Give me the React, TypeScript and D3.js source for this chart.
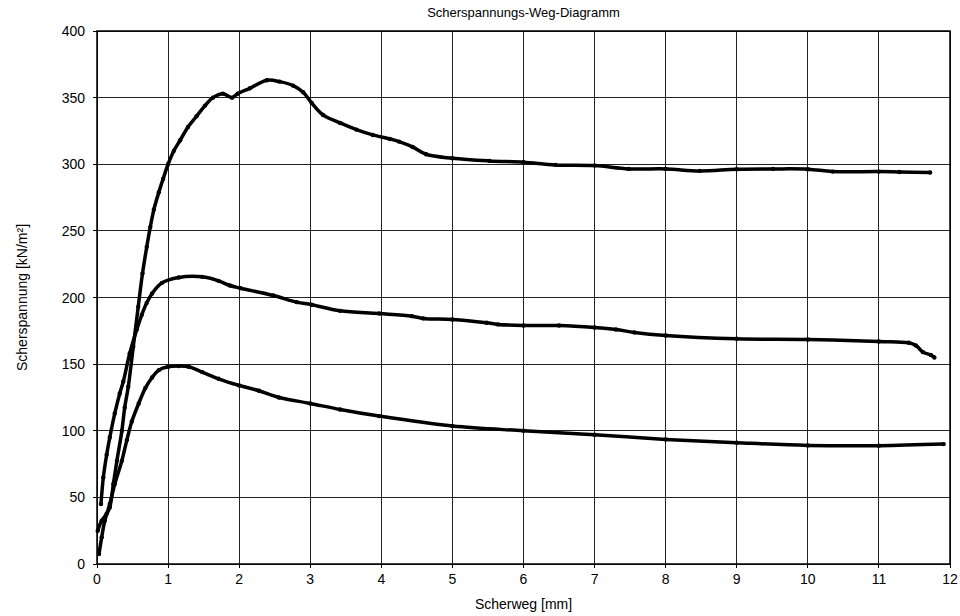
import React from "react";
import * as d3 from "d3";

const xTicks = [0, 1, 2, 3, 4, 5, 6, 7, 8, 9, 10, 11, 12];
const yTicks = [0, 50, 100, 150, 200, 250, 300, 350, 400];

// Scherweg [mm], Scherspannung [kN/m²]
const seriesTop: [number, number][] = [
  [0.01, 25], [0.066, 32.5], [0.136, 37.7], [0.18, 42.5], [0.23, 60], [0.28, 77.5],
  [0.35, 100], [0.39, 117.5], [0.44, 133], [0.51, 163], [0.58, 193], [0.64, 218],
  [0.7, 238], [0.75, 253], [0.8, 266], [0.87, 279], [0.93, 289], [1.0, 300],
  [1.08, 310], [1.17, 318], [1.28, 328], [1.4, 336], [1.52, 344], [1.63, 350],
  [1.77, 353], [1.9, 350], [1.98, 353], [2.15, 357], [2.39, 363], [2.57, 362],
  [2.76, 359], [2.9, 354], [3.02, 346], [3.18, 337], [3.42, 331], [3.65, 326],
  [3.88, 322], [4.12, 319], [4.25, 317], [4.44, 313], [4.63, 307.5], [5.0, 304.5],
  [5.52, 302.5], [6.0, 301.5], [6.45, 299.5], [7.0, 299], [7.48, 296.5], [8.0, 296.5],
  [8.48, 295], [9.0, 296.3], [9.51, 296.5], [10.0, 296.3], [10.35, 294.5], [11.0, 294.5],
  [11.29, 294.2], [11.72, 293.8],
];

const seriesMid: [number, number][] = [
  [0.056, 45], [0.089, 65], [0.136, 82], [0.18, 95], [0.25, 113], [0.32, 128],
  [0.37, 137], [0.46, 158], [0.56, 176], [0.63, 187], [0.7, 196], [0.775, 203],
  [0.915, 211], [1.15, 215], [1.48, 215.5], [1.71, 212.5], [1.87, 209], [2.02, 207],
  [2.48, 201.5], [2.81, 196.5], [3.02, 194.6], [3.42, 190], [3.97, 188], [4.43, 186],
  [4.59, 184.3], [5.0, 183.5], [5.48, 181], [5.64, 179.8], [6.0, 179], [6.5, 179],
  [7.0, 177.5], [7.3, 176], [7.56, 173.8], [8.0, 171.5], [9.0, 169], [10.0, 168.5],
  [11.0, 167], [11.42, 166], [11.52, 164], [11.62, 159], [11.73, 156.8], [11.78, 155],
];

const seriesLow: [number, number][] = [
  [0.028, 7.5], [0.066, 20], [0.11, 32.5], [0.18, 45], [0.25, 60], [0.35, 77.5],
  [0.42, 93], [0.49, 107], [0.587, 120.5], [0.68, 132], [0.775, 140], [0.87, 145.5],
  [1.0, 148], [1.15, 148.5], [1.29, 148], [1.48, 144], [1.71, 139], [2.0, 134],
  [2.28, 130], [2.56, 125], [3.0, 120.5], [3.42, 116], [3.97, 111], [5.0, 103.5],
  [6.0, 100], [7.0, 97], [8.0, 93.5], [9.0, 91], [10.0, 89], [11.0, 88.8], [11.91, 90],
];

const allSeries = [seriesTop, seriesMid, seriesLow];

const W = 960;
const H = 616;
const M = { left: 97, right: 950, top: 31, bottom: 564 };
const FONT = "'Liberation Sans', Arial, sans-serif";

export default function App() {
  const x = d3.scaleLinear().domain([0, 12]).range([M.left, M.right]);
  const y = d3.scaleLinear().domain([0, 400]).range([M.bottom, M.top]);
  const line = d3
    .line<[number, number]>()
    .x((d) => x(d[0]))
    .y((d) => y(d[1]))
    .curve(d3.curveCatmullRom.alpha(0.5));

  return (
    <svg
      width={W}
      height={H}
      style={{ position: "absolute", left: 0, top: 0, display: "block", background: "#fff" }}
      fontFamily={FONT}
    >
      <rect x={0} y={0} width={W} height={H} fill="#fff" />
      {/* grid */}
      {xTicks.map((t) => (
        <line key={"gx" + t} x1={x(t)} x2={x(t)} y1={M.top} y2={M.bottom} stroke="#222" strokeWidth={1} shapeRendering="crispEdges" />
      ))}
      {yTicks.map((t) => (
        <line key={"gy" + t} x1={M.left} x2={M.right} y1={y(t)} y2={y(t)} stroke="#222" strokeWidth={1} shapeRendering="crispEdges" />
      ))}
      {/* ticks */}
      {xTicks.map((t) => (
        <line key={"tx" + t} x1={x(t)} x2={x(t)} y1={M.bottom} y2={M.bottom + 4} stroke="#000" strokeWidth={1} shapeRendering="crispEdges" />
      ))}
      {yTicks.map((t) => (
        <line key={"ty" + t} x1={M.left - 4} x2={M.left} y1={y(t)} y2={y(t)} stroke="#000" strokeWidth={1} shapeRendering="crispEdges" />
      ))}
      {/* frame */}
      <rect x={M.left} y={M.top} width={M.right - M.left} height={M.bottom - M.top} fill="none" stroke="#000" strokeWidth={1.5} />
      {/* series */}
      {allSeries.map((s, i) => (
        <g key={"s" + i}>
          <path d={line(s) || ""} fill="none" stroke="#000" strokeWidth={3.5} strokeLinejoin="round" strokeLinecap="round" />
          {s.map((d, j) => (
            <circle key={j} cx={x(d[0])} cy={y(d[1])} r={2.2} fill="#000" />
          ))}
        </g>
      ))}
      {/* tick labels */}
      {xTicks.map((t) => (
        <text key={"lx" + t} x={x(t)} y={M.bottom + 20} textAnchor="middle" fontSize={14} fill="#000">
          {t}
        </text>
      ))}
      {yTicks.map((t) => (
        <text key={"ly" + t} x={M.left - 12} y={y(t) + 5} textAnchor="end" fontSize={14} fill="#000">
          {t}
        </text>
      ))}
      {/* titles */}
      <text x={(M.left + M.right) / 2} y={17} textAnchor="middle" fontSize={13} fill="#000">
        Scherspannungs-Weg-Diagramm
      </text>
      <text x={(M.left + M.right) / 2} y={609} textAnchor="middle" fontSize={14} fill="#000">
        Scherweg [mm]
      </text>
      <text
        transform={`translate(27, ${(M.top + M.bottom) / 2}) rotate(-90)`}
        textAnchor="middle"
        fontSize={14}
        fill="#000"
      >
        Scherspannung [kN/m²]
      </text>
    </svg>
  );
}
